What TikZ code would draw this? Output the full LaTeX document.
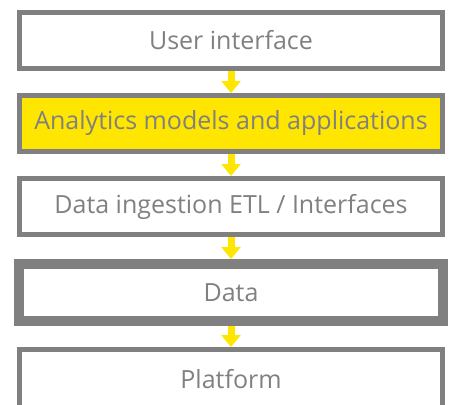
\documentclass[tikz,border=0pt]{standalone}
\usepackage{fontspec}
\setmainfont{Open Sans}
\usetikzlibrary{positioning,arrows.meta}
\definecolor{eygray}{HTML}{808080}
\definecolor{eyyellow}{HTML}{FFE600}
\tikzset{layer/.style={draw=eygray,line width=5pt,minimum width=423pt,minimum height=56pt,
		text=eygray,font=\fontsize{25}{30}\selectfont},
	flow/.style={draw=eyyellow,line width=7pt,-{Triangle[width=19pt,length=12pt]}}}
\begin{document}
\begin{tikzpicture}[node distance=22pt]
\useasboundingbox (0,0) rectangle (451pt,-405pt);
\clip (0,0) rectangle (451pt,-405pt);
\node[layer] (ui) at (231pt,-40.5pt) {User interface};
\node[layer,fill=eyyellow,below=of ui] (models) {Analytics models and applications};
\node[layer,below=of models] (ingest) {Data ingestion ETL / Interfaces};
\node[layer,line width=10pt,minimum width=424pt,minimum height=57pt,below=of ingest] (data) {Data};
\node[layer,minimum height=60pt,below=21pt of data] (platform) {Platform};
\draw[flow] (ui) -- (models);
\draw[flow] (models) -- (ingest);
\draw[flow] (ingest) -- (data);
\draw[flow] (data) -- (platform);
\end{tikzpicture}
\end{document}
